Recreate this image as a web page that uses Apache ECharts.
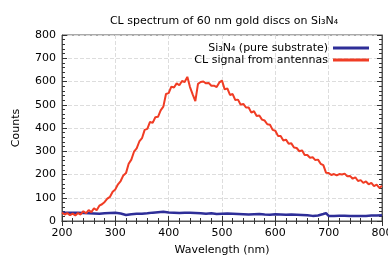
<!DOCTYPE html>
<html>
<head>
<meta charset="utf-8">
<script src="https://cdn.jsdelivr.net/npm/echarts@6/dist/echarts.min.js"></script>
<style>
  html, body { margin: 0; padding: 0; background: #fff; }
  #chart { width: 388px; height: 262px; }
</style>
</head>
<body>
<div id="chart"></div>
<script>
// wavelengths (nm) for the antenna spectrum, 5 nm steps
const redWl = [];
for (let w = 200; w <= 800; w += 5) redWl.push(w);
// CL signal from antennas (counts), noise included
const redCounts = [
  36, 28, 34, 25, 32, 24, 34, 28, 42, 33,
  47, 38, 55, 46, 66, 72, 82, 96, 104, 126,
  136, 158, 172, 196, 206, 246, 264, 298, 312, 342,
  356, 392, 396, 426, 422, 446, 448, 476, 492, 546,
  550, 578, 574, 592, 584, 602, 598, 620, 576, 545,
  516, 590, 598, 600, 592, 594, 582, 582, 576, 596,
  604, 566, 570, 542, 546, 520, 522, 500, 504, 488,
  488, 466, 472, 452, 454, 436, 432, 416, 414, 392,
  388, 366, 366, 346, 350, 332, 334, 316, 314, 300,
  304, 284, 284, 272, 274, 262, 264, 246, 240, 208,
  206, 198, 202, 196, 202, 200, 204, 192, 194, 182,
  188, 172, 176, 164, 170, 158, 164, 150, 156, 142,
  152
];
// substrate spectrum
const blueWl = [
  200, 210, 220, 230, 240, 250, 260, 270, 280, 290,
  300, 310, 320, 330, 340, 350, 360, 370, 380, 390,
  400, 410, 420, 430, 440, 450, 460, 470, 480, 490,
  500, 510, 520, 530, 540, 550, 560, 570, 580, 590,
  600, 610, 620, 630, 640, 650, 660, 670, 680, 690,
  695, 700, 710, 720, 730, 740, 750, 760, 770, 780,
  790, 800
];
const blueCounts = [
  35, 36, 36, 35, 34, 33, 32, 31, 33, 34,
  35, 32, 26, 29, 31, 31, 33, 36, 38, 40,
  37, 36, 34, 35, 35, 34, 33, 31, 33, 30,
  31, 32, 31, 30, 29, 28, 29, 30, 28, 27,
  29, 28, 27, 28, 27, 26, 25, 22, 24, 30,
  34, 22, 22, 23, 23, 22, 21, 21, 22, 24,
  24, 25
];

const font = 'DejaVu Sans';
const frame = '#555';
const tickColor = '#333';

function frameAxis(extra) {
  return Object.assign({
    type: 'value',
    axisLine: { show: true, lineStyle: { color: frame } },
    axisTick: { show: true, inside: true, length: 5, lineStyle: { color: tickColor, width: 1 } },
    minorTick: { show: true, splitNumber: 5, length: 3, lineStyle: { color: tickColor, width: 1 } },
    axisLabel: { show: false },
    splitLine: { show: false }
  }, extra);
}

const chart = echarts.init(document.getElementById('chart'));

chart.setOption({
  animation: false,
  textStyle: { fontFamily: font },
  title: {
    text: 'CL spectrum of 60 nm gold discs on Si₃N₄',
    left: 219, top: 11, textAlign: 'center',
    textStyle: { fontSize: 11, fontWeight: 'normal', color: '#000', fontFamily: font }
  },
  legend: {
    orient: 'vertical',
    right: 19, top: 42, padding: 0,
    align: 'right',
    itemWidth: 36, itemHeight: 3, itemGap: 0,
    icon: 'rect',
    textStyle: { fontSize: 11, color: '#000', fontFamily: font, lineHeight: 12 },
    data: ['Si₃N₄ (pure substrate)', 'CL signal from antennas']
  },
  grid: {
    left: 62, right: 6, top: 35, bottom: 41, outerBoundsMode: 'none',
    show: true, borderColor: frame, borderWidth: 1
  },
  xAxis: [
    frameAxis({
      min: 200, max: 800, interval: 100,
      name: 'Wavelength (nm)', nameLocation: 'middle', nameGap: 24,
      nameTextStyle: { fontSize: 11, color: '#000', fontFamily: font },
      axisLabel: { show: true, fontSize: 11, color: '#000', margin: 7 },
      splitLine: { show: true, lineStyle: { color: '#ddd', type: 'dashed' } }
    }),
    frameAxis({ min: 200, max: 800, interval: 100, position: 'top' })
  ],
  yAxis: [
    frameAxis({
      min: 0, max: 800, interval: 100,
      name: 'Counts', nameLocation: 'middle', nameGap: 40,
      nameTextStyle: { fontSize: 11, color: '#000', fontFamily: font },
      axisLabel: { show: true, fontSize: 11, color: '#000', margin: 6 },
      splitLine: { show: true, lineStyle: { color: '#ddd', type: 'dashed' } }
    }),
    frameAxis({ min: 0, max: 800, interval: 100, position: 'right' })
  ],
  series: [
    {
      name: 'Si₃N₄ (pure substrate)',
      type: 'line', showSymbol: false,
      color: '#2e2e98',
      lineStyle: { width: 2.5 },
      data: blueWl.map((w, i) => [w, blueCounts[i]])
    },
    {
      name: 'CL signal from antennas',
      type: 'line', showSymbol: false,
      color: '#f03c24',
      lineStyle: { width: 2 },
      data: redWl.map((w, i) => [w, redCounts[i]])
    }
  ]
});
</script>
</body>
</html>
